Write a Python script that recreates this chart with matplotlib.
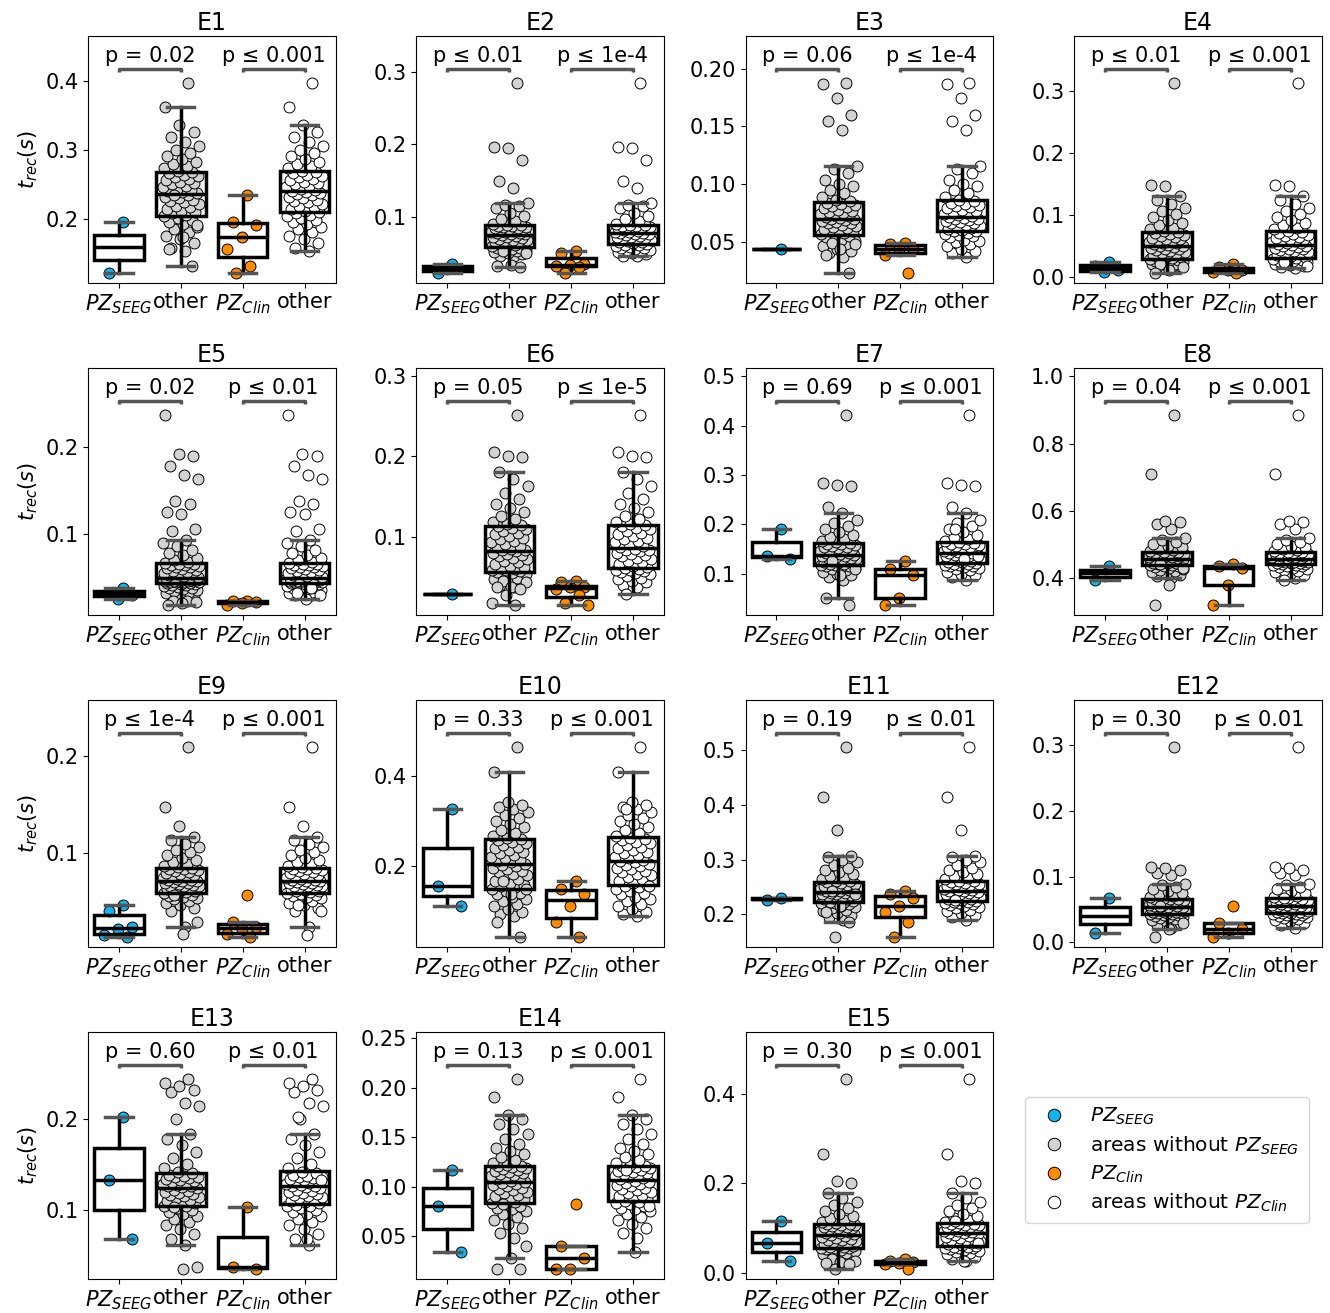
import numpy as np
import matplotlib
matplotlib.use("Agg")
import matplotlib.pyplot as plt
from matplotlib import ticker
from matplotlib.lines import Line2D

# ---------------------------------------------------------------------------
# Recruitment times t_rec (s) per experiment.
#   *_PZ_SEEG : propagation-zone areas according to SEEG
#   *_PZ_CLIN : propagation-zone areas according to clinical assessment
#   *_AREAS   : remaining areas that belong to neither zone
# ---------------------------------------------------------------------------
E1_PZ_SEEG = [0.196, 0.122]
E1_PZ_CLIN = [0.234, 0.196, 0.191, 0.174, 0.157, 0.132, 0.122]
E1_AREAS = [0.154, 0.158, 0.165, 0.171, 0.176, 0.181, 0.185, 0.189, 0.193, 0.196, 0.199, 0.202, 0.204, 0.206, 0.208,
            0.210,
            0.212, 0.215, 0.217, 0.219, 0.222, 0.224, 0.226, 0.228, 0.230, 0.232, 0.234, 0.236, 0.237, 0.239,
            0.240,
            0.242, 0.244, 0.246, 0.248, 0.250, 0.252, 0.254, 0.256, 0.258, 0.260, 0.262, 0.264, 0.266, 0.268,
            0.270,
            0.273, 0.276, 0.279, 0.283, 0.287, 0.291, 0.295, 0.300, 0.305, 0.311, 0.318, 0.326, 0.336, 0.362, 0.397]

E2_PZ_SEEG = [0.036, 0.023]
E2_PZ_CLIN = [0.053, 0.051, 0.036, 0.034, 0.033, 0.031, 0.023]
E2_AREAS = [0.046, 0.047, 0.049, 0.050, 0.052, 0.053, 0.054, 0.055, 0.056, 0.057, 0.058, 0.059, 0.060, 0.061, 0.062,
            0.063,
            0.064, 0.065, 0.066, 0.067, 0.068, 0.069, 0.070, 0.071, 0.072, 0.073, 0.074, 0.075, 0.076, 0.077,
            0.0775,
            0.078, 0.079, 0.080, 0.081, 0.082, 0.083, 0.084, 0.0845, 0.085, 0.086, 0.0865, 0.087, 0.088, 0.0885,
            0.089,
            0.091, 0.094, 0.097, 0.101, 0.106, 0.112, 0.115, 0.117, 0.119, 0.140, 0.150, 0.178, 0.195, 0.197, 0.285]

E3_PZ_SEEG = [0.044]
E3_PZ_CLIN = [0.049, 0.048, 0.044, 0.0435, 0.039, 0.023]
E3_AREAS = [0.037, 0.040, 0.042, 0.044, 0.046, 0.048, 0.050, 0.051, 0.052, 0.054, 0.055, 0.056, 0.057, 0.058, 0.059,
            0.0597,
            0.060, 0.061, 0.062, 0.063, 0.064, 0.065, 0.066, 0.0665, 0.067, 0.068, 0.069, 0.0695, 0.070, 0.0705,
            0.0711,
            0.072, 0.073, 0.074, 0.075, 0.076, 0.077, 0.078, 0.079, 0.080, 0.081, 0.082, 0.083, 0.084, 0.085,
            0.0865,
            0.089, 0.092, 0.095, 0.098, 0.100, 0.104, 0.110, 0.113, 0.1155, 0.147, 0.155, 0.160, 0.175, 0.187, 0.188]

E4_PZ_SEEG = [0.025, 0.018, 0.011, 0.008]
E4_PZ_CLIN = [0.022, 0.016, 0.012, 0.011, 0.008, 0.007]
E4_AREAS = [0.0144, 0.016, 0.018, 0.020, 0.021, 0.022, 0.024, 0.025, 0.026, 0.027, 0.028, 0.029, 0.030, 0.031, 0.032,
            0.033,
            0.035, 0.036, 0.038, 0.039, 0.041, 0.042, 0.044, 0.045, 0.046, 0.047, 0.048, 0.050, 0.051, 0.052,
            0.0534,
            0.055, 0.056, 0.057, 0.058, 0.060, 0.061, 0.062, 0.064, 0.065, 0.067, 0.068, 0.070, 0.071, 0.073,
            0.0747,
            0.077, 0.080, 0.084, 0.088, 0.092, 0.097, 0.102, 0.107, 0.112, 0.118, 0.124, 0.130, 0.147, 0.148, 0.313]

E5_PZ_SEEG = [0.039, 0.033, 0.030, 0.026]
E5_PZ_CLIN = [0.024, 0.023, 0.022, 0.021, 0.019]
E5_AREAS = [0.029, 0.030, 0.031, 0.032, 0.033, 0.034, 0.035, 0.036, 0.037, 0.038, 0.039, 0.040, 0.041, 0.0415, 0.042,
            0.043, 0.0435, 0.044, 0.0445, 0.045,
            0.0452,
            0.0455, 0.0457, 0.046, 0.0462, 0.0465, 0.0467, 0.047, 0.0472, 0.0475, 0.0477, 0.048, 0.0482, 0.0485,
            0.0487, 0.049, 0.0492, 0.0494, 0.0495, 0.0497,
            0.0498,
            0.051, 0.052, 0.053, 0.054, 0.055, 0.056, 0.057, 0.058, 0.059, 0.060, 0.061, 0.062, 0.063, 0.064,
            0.0645, 0.065, 0.066, 0.0665, 0.067,
            0.0677,
            0.070, 0.073, 0.076, 0.079, 0.082, 0.086, 0.090, 0.093, 0.104, 0.106, 0.123, 0.125, 0.135, 0.138,
            0.163, 0.168, 0.178, 0.190, 0.192, 0.237]

E6_PZ_SEEG = [0.029]
E6_PZ_CLIN = [0.045, 0.043, 0.038, 0.037, 0.035, 0.027, 0.018, 0.015]
E6_AREAS = [0.0375, 0.040, 0.043, 0.045, 0.047, 0.049, 0.051, 0.053, 0.055, 0.056, 0.057, 0.058, 0.059, 0.060, 0.061,
            0.0625,
            0.064, 0.066, 0.068, 0.070, 0.072, 0.074, 0.076, 0.077, 0.078, 0.080, 0.082, 0.083, 0.084, 0.085,
            0.087,
            0.089, 0.091, 0.093, 0.095, 0.097, 0.099, 0.101, 0.103, 0.105, 0.107, 0.109, 0.111, 0.113, 0.114,
            0.1154,
            0.118, 0.122, 0.126, 0.131, 0.136, 0.141, 0.147, 0.155, 0.163, 0.172, 0.181, 0.199, 0.201, 0.205, 0.252]

E7_PZ_SEEG = [0.191, 0.137, 0.130]
E7_PZ_CLIN = [0.125, 0.110, 0.098, 0.052, 0.037]
E7_AREAS = [0.088, 0.093, 0.097, 0.100, 0.104, 0.107, 0.110, 0.112, 0.114, 0.115, 0.116, 0.117, 0.118, 0.119, 0.120,
            0.1216,
            0.123, 0.124, 0.126, 0.127, 0.129, 0.130, 0.132, 0.133, 0.135, 0.136, 0.137, 0.138, 0.139, 0.141,
            0.142,
            0.143, 0.145, 0.146, 0.148, 0.149, 0.151, 0.152, 0.154, 0.155, 0.157, 0.158, 0.160, 0.161, 0.163,
            0.164,
            0.167, 0.171, 0.175, 0.179, 0.184, 0.190, 0.197, 0.203, 0.209, 0.2235, 0.235, 0.277, 0.280, 0.283, 0.422]

E8_PZ_SEEG = [0.435, 0.392]
E8_PZ_CLIN = [0.441, 0.435, 0.428, 0.380, 0.319]
E8_AREAS = [0.400, 0.404, 0.408, 0.412, 0.416, 0.420, 0.423, 0.426, 0.429, 0.432, 0.434, 0.436, 0.438, 0.439, 0.441,
            0.442,
            0.443, 0.444, 0.445, 0.446, 0.447, 0.448, 0.449, 0.450, 0.451, 0.452, 0.453, 0.454, 0.455, 0.456,
            0.457,
            0.458, 0.460, 0.461, 0.462, 0.464, 0.465, 0.466, 0.468, 0.469, 0.470, 0.472, 0.473, 0.474, 0.476,
            0.477,
            0.480, 0.483, 0.487, 0.491, 0.496, 0.502, 0.508, 0.514, 0.520, 0.545, 0.560, 0.565, 0.570, 0.710, 0.886]

E9_PZ_SEEG = [0.047, 0.041, 0.024, 0.022, 0.016, 0.014]
E9_PZ_CLIN = [0.057, 0.029, 0.024, 0.022, 0.017, 0.014]
E9_AREAS = [0.024, 0.041, 0.044, 0.047, 0.049, 0.051, 0.053, 0.054, 0.055, 0.056, 0.057, 0.058, 0.059, 0.060, 0.061,
            0.0616,
            0.062, 0.063, 0.064, 0.065, 0.066, 0.0665, 0.067, 0.068, 0.069, 0.0695, 0.070, 0.071, 0.0715, 0.072,
            0.0726,
            0.073, 0.074, 0.075, 0.076, 0.077, 0.078, 0.079, 0.080, 0.081, 0.082, 0.083, 0.084, 0.0845, 0.085,
            0.0856,
            0.087, 0.089, 0.091, 0.093, 0.095, 0.098, 0.101, 0.104, 0.107, 0.110, 0.114, 0.117, 0.128, 0.148, 0.210]

E10_PZ_SEEG = [0.326, 0.156, 0.112]
E10_PZ_CLIN = [0.168, 0.150, 0.138, 0.112, 0.077, 0.044]
E10_AREAS = [0.090, 0.095, 0.100, 0.106, 0.112, 0.118, 0.123, 0.128, 0.133, 0.138, 0.142, 0.146, 0.150, 0.154, 0.157,
             0.160,
             0.164, 0.168, 0.172, 0.176, 0.180, 0.184, 0.188, 0.191, 0.194, 0.197, 0.200, 0.203, 0.206, 0.209,
             0.211,
             0.214, 0.218, 0.222, 0.226, 0.230, 0.233, 0.237, 0.240, 0.244, 0.248, 0.252, 0.255, 0.258, 0.261,
             0.264,
             0.268, 0.274, 0.280, 0.287, 0.294, 0.300, 0.307, 0.314, 0.320, 0.326, 0.332, 0.337, 0.343, 0.410, 0.465]

E11_PZ_SEEG = [0.230, 0.226]
E11_PZ_CLIN = [0.243, 0.237, 0.230, 0.215, 0.203, 0.186, 0.158]
E11_AREAS = [0.190, 0.194, 0.198, 0.202, 0.205, 0.208, 0.211, 0.213, 0.215, 0.217, 0.219, 0.220, 0.221, 0.222, 0.223,
             0.2245,
             0.226, 0.227, 0.228, 0.230, 0.231, 0.232, 0.234, 0.235, 0.236, 0.237, 0.238, 0.239, 0.240, 0.242,
             0.243,
             0.244, 0.245, 0.246, 0.247, 0.249, 0.250, 0.251, 0.252, 0.254, 0.255, 0.256, 0.257, 0.259, 0.260,
             0.261,
             0.264, 0.267, 0.270, 0.273, 0.277, 0.281, 0.285, 0.290, 0.295, 0.300, 0.304, 0.307, 0.355, 0.415, 0.507]

E12_PZ_SEEG = [0.067, 0.014]
E12_PZ_CLIN = [0.055, 0.029, 0.020, 0.014, 0.008]
E12_AREAS = [0.022, 0.026, 0.029, 0.032, 0.034, 0.036, 0.037, 0.038, 0.039, 0.040, 0.041, 0.042, 0.043, 0.0435, 0.044,
             0.0445,
             0.045, 0.046, 0.0465, 0.047, 0.048, 0.0485, 0.049, 0.050, 0.051, 0.0515, 0.052, 0.053, 0.0535, 0.054,
             0.0546,
             0.0555, 0.056, 0.057, 0.058, 0.059, 0.060, 0.061, 0.062, 0.063, 0.064, 0.065, 0.0655, 0.066, 0.0665,
             0.0673,
             0.069, 0.071, 0.073, 0.075, 0.078, 0.081, 0.084, 0.087, 0.089, 0.103, 0.105, 0.110, 0.113, 0.115, 0.298]

E13_PZ_SEEG = [0.203, 0.133, 0.068]
E13_PZ_CLIN = [0.103, 0.037, 0.035]
E13_AREAS = [0.0618, 0.068, 0.074, 0.079, 0.083, 0.087, 0.090, 0.093, 0.096, 0.098, 0.100, 0.102, 0.104, 0.105, 0.106,
             0.1074,
             0.109, 0.110, 0.111, 0.113, 0.114, 0.115, 0.117, 0.118, 0.119, 0.120, 0.121, 0.122, 0.124, 0.125,
             0.126,
             0.127, 0.128, 0.129, 0.130, 0.131, 0.132, 0.133, 0.134, 0.135, 0.136, 0.137, 0.138, 0.139, 0.141,
             0.142,
             0.146, 0.151, 0.157, 0.164, 0.172, 0.178, 0.184, 0.200, 0.215, 0.218, 0.230, 0.233, 0.237, 0.240, 0.245]

E14_PZ_SEEG = [0.117, 0.081, 0.034]
E14_PZ_CLIN = [0.083, 0.040, 0.028, 0.017, 0.017]
E14_AREAS = [0.048, 0.053, 0.058, 0.062, 0.066, 0.069, 0.072, 0.075, 0.077, 0.079, 0.081, 0.083, 0.084, 0.085, 0.086,
             0.0876,
             0.089, 0.091, 0.092, 0.094, 0.095, 0.097, 0.098, 0.099, 0.101, 0.102, 0.103, 0.104, 0.105, 0.106,
             0.1077,
             0.109, 0.110, 0.111, 0.112, 0.113, 0.114, 0.115, 0.116, 0.117, 0.118, 0.119, 0.120, 0.1205, 0.121,
             0.1218,
             0.124, 0.127, 0.130, 0.133, 0.136, 0.139, 0.143, 0.148, 0.153, 0.158, 0.163, 0.168, 0.172, 0.190, 0.209]

E15_PZ_SEEG = [0.115, 0.066, 0.027]
E15_PZ_CLIN = [0.031, 0.026, 0.023, 0.021, 0.019, 0.008]
E15_AREAS = [0.0267, 0.031, 0.035, 0.038, 0.041, 0.044, 0.047, 0.049, 0.051, 0.053, 0.054, 0.055, 0.056, 0.057, 0.058,
             0.059,
             0.061, 0.063, 0.066, 0.068, 0.070, 0.072, 0.074, 0.076, 0.078, 0.080, 0.082, 0.084, 0.086, 0.088,
             0.0896,
             0.091, 0.093, 0.094, 0.096, 0.097, 0.099, 0.100, 0.102, 0.103, 0.105, 0.106, 0.107, 0.109, 0.110,
             0.111,
             0.114, 0.118, 0.122, 0.127, 0.132, 0.138, 0.144, 0.151, 0.159, 0.168, 0.1785, 0.200, 0.206, 0.267, 0.435]

# p-values of the two comparisons (PZ_SEEG vs rest, PZ_Clin vs rest)
P_SEEG = ["p = 0.02", "p ≤ 0.01", "p = 0.06", "p ≤ 0.01", "p = 0.02", "p = 0.05", "p = 0.69", "p = 0.04",
          "p ≤ 1e-4", "p = 0.33", "p = 0.19", "p = 0.30", "p = 0.60", "p = 0.13", "p = 0.30"]
P_CLIN = ["p ≤ 0.001", "p ≤ 1e-4", "p ≤ 1e-4", "p ≤ 0.001", "p ≤ 0.01", "p ≤ 1e-5", "p ≤ 0.001", "p ≤ 0.001",
          "p ≤ 0.001", "p ≤ 0.001", "p ≤ 0.01", "p ≤ 0.01", "p ≤ 0.01", "p ≤ 0.001", "p ≤ 0.001"]

EXPERIMENTS = ["E%d" % i for i in range(1, 16)]
X_LABELS = ["$PZ_{SEEG}$", "other", "$PZ_{Clin}$", "other"]
LEGEND_LABELS = ["$PZ_{SEEG}$", "areas without $PZ_{SEEG}$", "$PZ_{Clin}$", "areas without $PZ_{Clin}$"]

DATA = [
    (E1_PZ_SEEG, E1_PZ_CLIN, E1_AREAS), (E2_PZ_SEEG, E2_PZ_CLIN, E2_AREAS), (E3_PZ_SEEG, E3_PZ_CLIN, E3_AREAS),
    (E4_PZ_SEEG, E4_PZ_CLIN, E4_AREAS), (E5_PZ_SEEG, E5_PZ_CLIN, E5_AREAS), (E6_PZ_SEEG, E6_PZ_CLIN, E6_AREAS),
    (E7_PZ_SEEG, E7_PZ_CLIN, E7_AREAS), (E8_PZ_SEEG, E8_PZ_CLIN, E8_AREAS), (E9_PZ_SEEG, E9_PZ_CLIN, E9_AREAS),
    (E10_PZ_SEEG, E10_PZ_CLIN, E10_AREAS), (E11_PZ_SEEG, E11_PZ_CLIN, E11_AREAS),
    (E12_PZ_SEEG, E12_PZ_CLIN, E12_AREAS), (E13_PZ_SEEG, E13_PZ_CLIN, E13_AREAS),
    (E14_PZ_SEEG, E14_PZ_CLIN, E14_AREAS), (E15_PZ_SEEG, E15_PZ_CLIN, E15_AREAS),
]

C_SEEG = "#12b3eb"
C_OTHER_SEEG = "#d3d3d3"
C_CLIN = "#ff8c00"
C_OTHER_CLIN = "#ffffff"
COLORS = [C_SEEG, C_OTHER_SEEG, C_CLIN, C_OTHER_CLIN]
BRACKET = "#555555"
FS = 15


def minus(a, b):
    """Values of a that are not in b (each match removed once)."""
    rest = list(a)
    for v in b:
        if v in rest:
            rest.remove(v)
    return rest


def jitter(n, width=0.3):
    k = (np.arange(1, n + 1) * 0.6180339887) % 1.0
    return (k - 0.5) * 2 * width


W, H = 1330, 1313
fig = plt.figure(figsize=(W / 100, H / 100), dpi=100)

col_left = [88, 416.5, 745.5, 1074]
row_top = [36, 368, 700, 1032]
ax_w, ax_h = 247.5, 246.5

for idx, (name, (seeg, clin, areas)) in enumerate(zip(EXPERIMENTS, DATA)):
    r, c = divmod(idx, 4)
    ax = fig.add_axes([col_left[c] / W, 1 - (row_top[r] + ax_h) / H, ax_w / W, ax_h / H])

    groups = [seeg, areas + minus(clin, seeg), clin, areas + minus(seeg, clin)]

    for pos, (vals, col) in enumerate(zip(groups, COLORS)):
        vals = np.asarray(vals, dtype=float)
        ax.scatter(pos + jitter(len(vals)), vals, s=62, facecolor=col, edgecolor="black",
                   linewidth=0.7, zorder=2)

    ax.boxplot(groups, positions=[0, 1, 2, 3], widths=0.8, whis=1.5, showfliers=False,
               patch_artist=True, capwidths=0.44, zorder=3,
               boxprops=dict(facecolor="none", edgecolor="black", linewidth=2.5),
               medianprops=dict(color="black", linewidth=2.5),
               whiskerprops=dict(color="black", linewidth=2.5),
               capprops=dict(color=BRACKET, linewidth=2.5))

    allv = np.concatenate([np.asarray(g, float) for g in groups])
    lo, hi = allv.min(), allv.max()
    rng = hi - lo
    ax.set_ylim(lo - 0.05 * rng, hi + 0.245 * rng)
    ax.set_xlim(-0.5, 3.5)

    yb = hi + 0.073 * rng
    tip = 0.018 * rng
    for (x0, x1), txt in zip([(0, 1), (2, 3)], [P_SEEG[idx], P_CLIN[idx]]):
        ax.plot([x0, x0, x1, x1], [yb - tip, yb, yb, yb - tip], color=BRACKET, lw=2.5,
                solid_capstyle="butt", zorder=4)
        ax.text((x0 + x1) / 2, yb + 0.012 * rng, txt, ha="center", va="bottom", fontsize=FS)

    ax.set_xticks([0, 1, 2, 3])
    ax.set_xticklabels(X_LABELS, fontsize=FS)
    ax.yaxis.set_major_locator(ticker.MaxNLocator(nbins=5, steps=[1, 2, 2.5, 5, 10]))
    ax.tick_params(axis="y", labelsize=FS)
    ax.set_title(name, fontsize=17, pad=4)
    if c == 0:
        ax.set_ylabel("$t_{rec}(s)$", fontsize=FS)

handles = [Line2D([], [], ls="none", marker="o", markersize=9, markerfacecolor=col,
                  markeredgecolor="black", markeredgewidth=0.7) for col in COLORS]
fig.legend(handles, LEGEND_LABELS, loc="upper left", bbox_to_anchor=(1025 / W, 1 - 1097 / H),
           fontsize=FS - 0.5, frameon=True, borderpad=0.45, labelspacing=0.35, borderaxespad=0.0)

fig.savefig("out.png", dpi=100)
